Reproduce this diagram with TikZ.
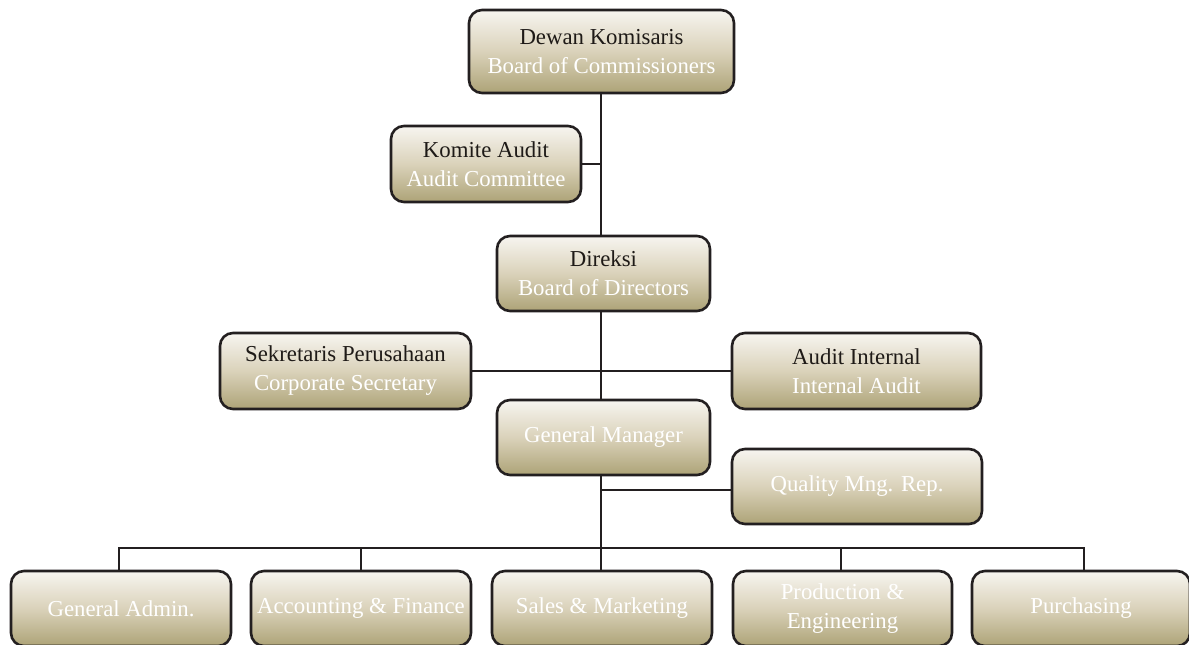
\documentclass[tikz,border=0pt]{standalone}
\usepackage{fontspec}
\setmainfont{Liberation Serif}
\definecolor{tanbot}{HTML}{ADA377}
\definecolor{tantop}{HTML}{F7F5F0}
\definecolor{tanmid}{HTML}{DAD2BA}
\definecolor{edge}{HTML}{231F20}
\definecolor{dark}{HTML}{1E1A17}
\tikzset{
  orgbox/.style={draw=edge, line width=2.6pt, rounded corners=13pt,
    top color=tantop, bottom color=tanbot, middle color=tanmid,
    minimum height=75pt, align=center, text=white,
    font=\fontsize{22.8}{29}\selectfont, inner sep=2pt},
  conn/.style={draw=edge, line width=2.4pt}
}
\begin{document}
\begin{tikzpicture}[x=1pt,y=-1pt]
\useasboundingbox (0,0) rectangle (1189,645);
\clip (0,0) rectangle (1189,645);
\fill[white] (0,0) rectangle (1189,645);
% nodes
\node[orgbox, minimum width=265pt, minimum height=83pt] (dk) at (601.5,51.5) {\textcolor{dark}{Dewan Komisaris}\\Board of Commissioners};
\node[orgbox, minimum width=190pt, minimum height=76pt] (ka) at (486,164) {\textcolor{dark}{Komite Audit}\\Audit Committee};
\node[orgbox, minimum width=213pt] (dir) at (603.5,273.5) {\textcolor{dark}{Direksi}\\Board of Directors};
\node[orgbox, minimum width=251pt, minimum height=76pt] (sek) at (345.5,371) {\textcolor{dark}{Sekretaris Perusahaan}\\Corporate Secretary};
\node[orgbox, minimum width=249pt, minimum height=76pt] (ai) at (856.5,371) {\textcolor{dark}{Audit Internal}\\Internal Audit};
\node[orgbox, minimum width=213pt] (gm) at (603.5,437.5) {General Manager};
\node[orgbox, minimum width=250pt] (qm) at (857,486.5) {Quality Mng. Rep.};
\node[orgbox, minimum width=220pt, minimum height=75pt] (ga) at (121,608.5) {General Admin.};
\node[orgbox, minimum width=220pt, minimum height=75pt] (af) at (361,608.5) {Accounting \& Finance};
\node[orgbox, minimum width=220pt, minimum height=75pt] (sm) at (602,608.5) {Sales \& Marketing};
\node[orgbox, minimum width=219pt, minimum height=75pt] (pe) at (842.5,608.5) {Production \&\\Engineering};
\node[orgbox, minimum width=218pt, minimum height=75pt] (pu) at (1081,608.5) {Purchasing};
% connectors
\coordinate (trunk) at (601,0);
\coordinate (bus) at (0,548);
\draw[conn] (dk.south -| trunk) -- (dir.north -| trunk);
\draw[conn] (ka.east) -- (ka.east -| trunk);
\draw[conn] (dir.south -| trunk) -- (gm.north -| trunk);
\draw[conn] (sek.east) -- (ai.west);
\draw[conn] (gm.south -| trunk) -- (sm.north -| trunk);
\draw[conn] ([yshift=-3.5pt]qm.west) -- ([yshift=-3.5pt]qm.west -| trunk);
\draw[conn] ([xshift=-2pt]ga.north) -- ([xshift=-2pt]ga.north |- bus) -- ([xshift=3pt]pu.north |- bus) -- ([xshift=3pt]pu.north);
\draw[conn] (af.north) -- (af.north |- bus);
\draw[conn] ([xshift=-1.5pt]pe.north) -- ([xshift=-1.5pt]pe.north |- bus);
\end{tikzpicture}
\end{document}
